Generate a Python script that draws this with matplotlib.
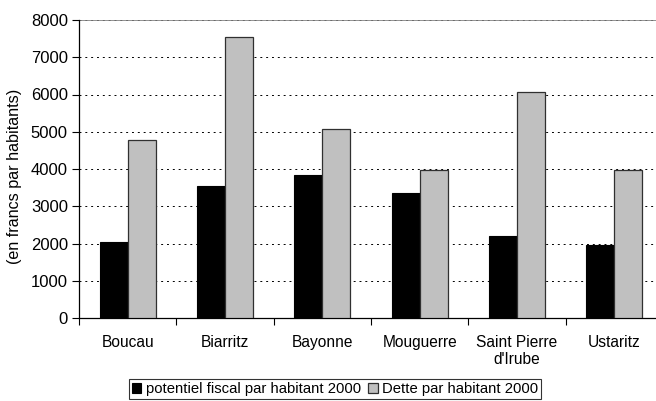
import numpy as np
import matplotlib.pyplot as plt

plt.rcParams['font.family'] = ['Liberation Sans', 'DejaVu Sans']

# Communes and values per inhabitant (francs)
communes = ["Boucau", "Biarritz", "Bayonne", "Mouguerre", "Saint Pierre\nd'Irube", "Ustaritz"]
potentiel_fiscal = [2040, 3555, 3850, 3350, 2190, 1965]
dette = [4790, 7550, 5085, 3985, 6070, 3960]
yticks = [0, 1000, 2000, 3000, 4000, 5000, 6000, 7000, 8000]

fig = plt.figure(figsize=(6.56, 4.01), dpi=100)
ax = fig.add_axes([79/656, 1-318/401, 584/656, 298/401])

x = np.arange(len(communes))
w = 0.288
ax.bar(x - w/2, potentiel_fiscal, width=w, color="black", edgecolor="black",
       linewidth=0.8, label="potentiel fiscal par habitant 2000", zorder=3)
ax.bar(x + w/2, dette, width=w, color="#c0c0c0", edgecolor="#303030",
       linewidth=0.9, label="Dette par habitant 2000", zorder=3)

ax.set_xlim(-0.5, len(communes) - 0.5)
ax.set_ylim(0, 8000)
ax.set_yticks(yticks)
ax.set_yticklabels([str(v) for v in yticks], fontsize=12)
ax.yaxis.grid(True, color="black", linestyle=(0, (2, 4)), linewidth=0.7)
ax.set_axisbelow(True)

# category labels centred, tick marks between groups
ax.set_xticks(x)
ax.set_xticklabels(communes, fontsize=11.2, linespacing=1.2)
ax.tick_params(axis="x", which="major", length=0, pad=12)
ax.set_xticks(np.arange(-0.5, len(communes)), minor=True)
ax.tick_params(axis="x", which="minor", length=5, width=0.8, direction="out")
ax.tick_params(axis="y", length=5, width=0.8, direction="out", pad=3)

for side in ["top", "right"]:
    ax.spines[side].set_visible(False)
ax.spines["left"].set_linewidth(0.9)
ax.spines["bottom"].set_linewidth(0.9)
ax.axhline(8000, color="#808080", linewidth=1.2, zorder=1)

fig.text(15/656, 1-176/401, "(en francs par habitants)", rotation=90,
         ha="center", va="center", fontsize=11.6)

leg = fig.legend(loc="center", bbox_to_anchor=(335/656, 1-389/401), ncol=2,
                 fontsize=10.7, frameon=True, fancybox=False, handlelength=0.65,
                 handleheight=0.65, handletextpad=0.3, columnspacing=0.5,
                 borderpad=0.2, borderaxespad=0)
leg.get_frame().set_edgecolor("black")
leg.get_frame().set_linewidth(0.8)

fig.savefig("out.png", dpi=100)
